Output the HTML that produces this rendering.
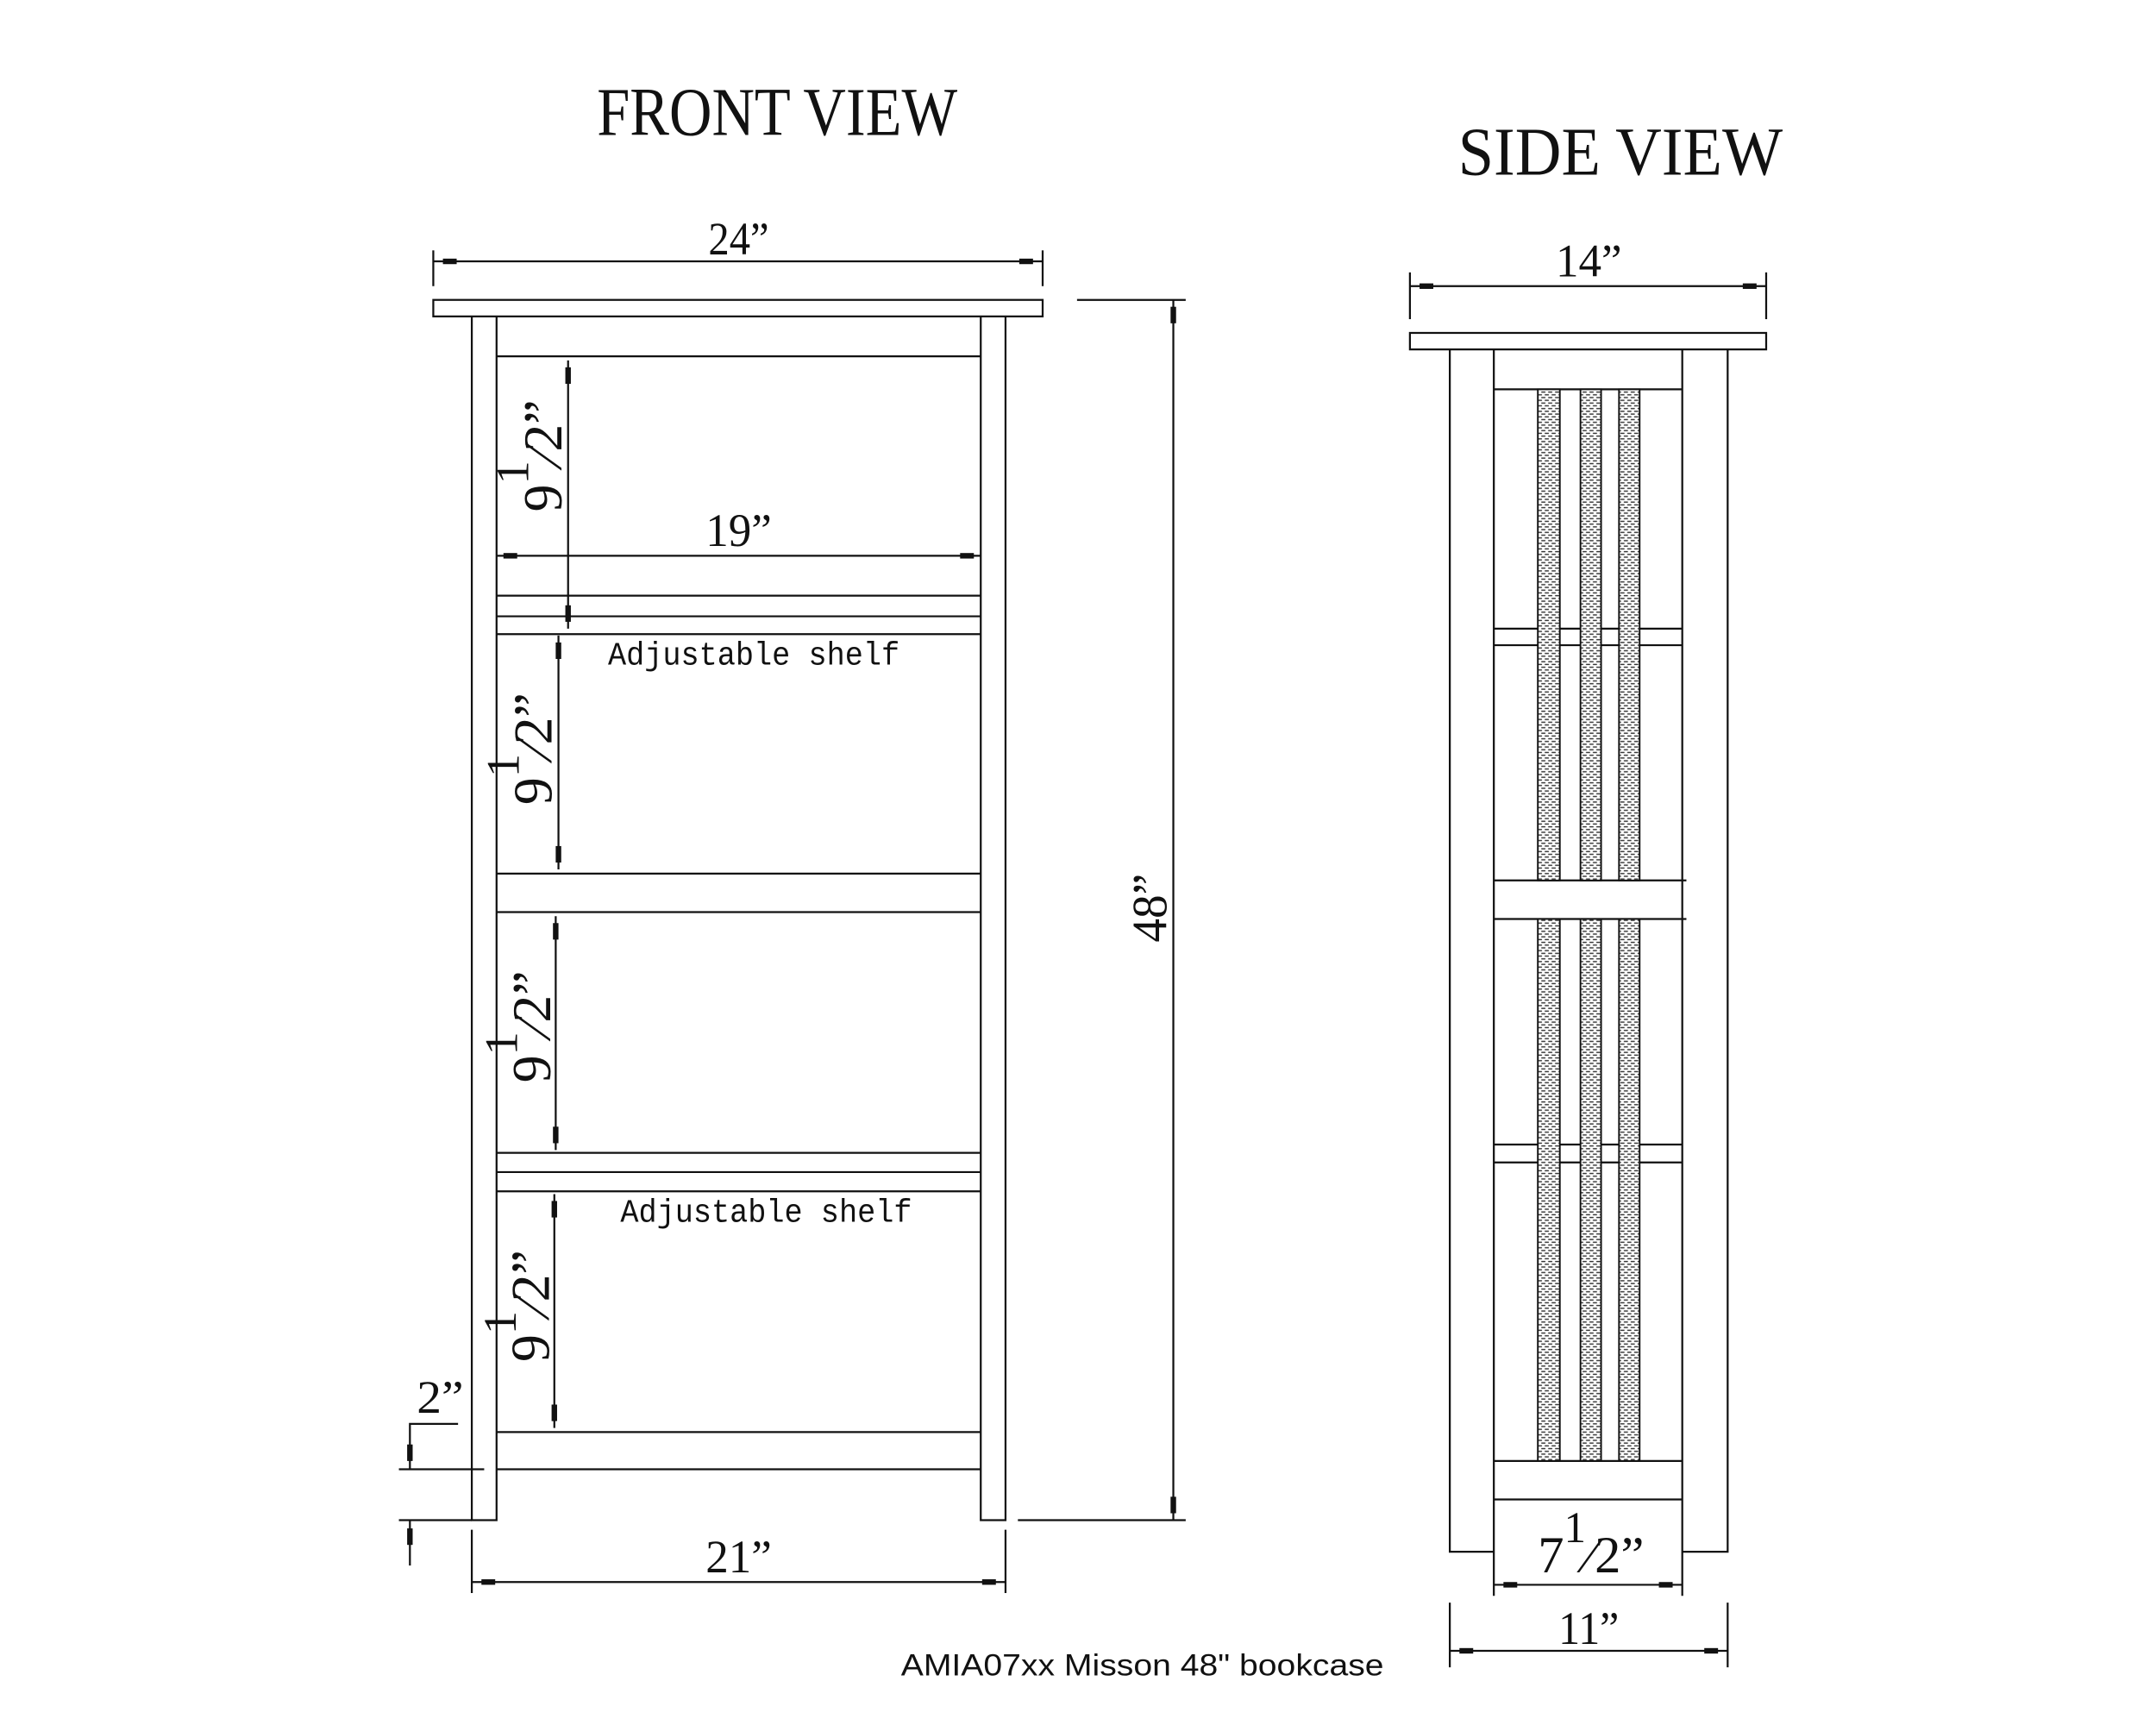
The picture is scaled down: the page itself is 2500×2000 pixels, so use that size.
<!DOCTYPE html>
<html><head><meta charset="utf-8"><style>
html,body{margin:0;padding:0;background:#fff;}
svg{display:block;}
text{font-family:"Liberation Serif",serif;fill:#111;}
</style></head><body>
<svg width="2500" height="2000" viewBox="0 0 2500 2000" xmlns="http://www.w3.org/2000/svg">
<defs>
<pattern id="h" width="5" height="4" patternUnits="userSpaceOnUse">
<rect width="5" height="4" fill="#fff"/>
<line x1="0.5" y1="1" x2="3.5" y2="1" stroke="#333" stroke-width="0.9"/>
<line x1="3" y1="3" x2="5" y2="3" stroke="#333" stroke-width="0.9"/>
<line x1="0" y1="3" x2="1" y2="3" stroke="#333" stroke-width="0.9"/>
</pattern>
</defs>
<rect width="2500" height="2000" fill="#fff"/>
<g transform="scale(1.595)" stroke="#111" stroke-width="1.4" fill="none">
<text x="565" y="98" font-size="50" text-anchor="middle" stroke="none" textLength="262" lengthAdjust="spacingAndGlyphs">FRONT VIEW</text>
<text x="1178" y="127" font-size="50" text-anchor="middle" stroke="none" textLength="236" lengthAdjust="spacingAndGlyphs">SIDE VIEW</text>

<line x1="315" y1="190" x2="758" y2="190"/>
<line x1="315" y1="182" x2="315" y2="208"/>
<line x1="758" y1="182" x2="758" y2="208"/>
<rect x="322" y="188" width="10" height="4" fill="#111" stroke="none"/>
<rect x="741" y="188" width="10" height="4" fill="#111" stroke="none"/>
<text x="537" y="185" font-size="34" text-anchor="middle" stroke="none" textLength="44" lengthAdjust="spacingAndGlyphs">24”</text>
<rect x="315" y="218" width="443" height="12"/>
<polyline points="343,230 343,1105 361,1105 361,230"/>
<polyline points="713,230 713,1105 731,1105 731,230"/>
<line x1="361" y1="259" x2="713" y2="259"/>
<line x1="361" y1="433" x2="713" y2="433"/>
<line x1="361" y1="448" x2="713" y2="448"/>
<line x1="361" y1="461" x2="713" y2="461"/>
<line x1="361" y1="635" x2="713" y2="635"/>
<line x1="361" y1="663" x2="713" y2="663"/>
<line x1="361" y1="838" x2="713" y2="838"/>
<line x1="361" y1="852" x2="713" y2="852"/>
<line x1="361" y1="866" x2="713" y2="866"/>
<line x1="361" y1="1041" x2="713" y2="1041"/>
<line x1="361" y1="1068" x2="713" y2="1068"/>

<line x1="361" y1="404" x2="713" y2="404"/>
<rect x="366" y="402" width="10" height="4" fill="#111" stroke="none"/>
<rect x="698" y="402" width="10" height="4" fill="#111" stroke="none"/>
<text x="537" y="397" font-size="34" text-anchor="middle" stroke="none" textLength="48" lengthAdjust="spacingAndGlyphs">19”</text>

<line x1="413" y1="262" x2="413" y2="457"/>
<rect x="411" y="267" width="4" height="12" fill="#111" stroke="none"/>
<rect x="411" y="440" width="4" height="12" fill="#111" stroke="none"/>
<line x1="406" y1="462" x2="406" y2="632"/>
<rect x="404" y="467" width="4" height="12" fill="#111" stroke="none"/>
<rect x="404" y="615" width="4" height="12" fill="#111" stroke="none"/>
<line x1="404" y1="666" x2="404" y2="836"/>
<rect x="402" y="671" width="4" height="12" fill="#111" stroke="none"/>
<rect x="402" y="819" width="4" height="12" fill="#111" stroke="none"/>
<line x1="403" y1="868" x2="403" y2="1038"/>
<rect x="401" y="873" width="4" height="12" fill="#111" stroke="none"/>
<rect x="401" y="1021" width="4" height="12" fill="#111" stroke="none"/>

<g stroke="none" font-size="40">
<text transform="translate(408,372) rotate(-90)">9<tspan dy="-24" font-size="34">1</tspan><tspan dy="24">⁄2”</tspan></text>
<text transform="translate(401,585) rotate(-90)">9<tspan dy="-24" font-size="34">1</tspan><tspan dy="24">⁄2”</tspan></text>
<text transform="translate(400,787) rotate(-90)">9<tspan dy="-24" font-size="34">1</tspan><tspan dy="24">⁄2”</tspan></text>
<text transform="translate(399,990) rotate(-90)">9<tspan dy="-24" font-size="34">1</tspan><tspan dy="24">⁄2”</tspan></text>
</g>

<text x="548" y="483" font-size="24" text-anchor="middle" stroke="none" style="font-family:'Liberation Mono',monospace" textLength="212" lengthAdjust="spacingAndGlyphs">Adjustable shelf</text>
<text x="557" y="888" font-size="24" text-anchor="middle" stroke="none" style="font-family:'Liberation Mono',monospace" textLength="212" lengthAdjust="spacingAndGlyphs">Adjustable shelf</text>

<line x1="783" y1="218" x2="862" y2="218"/>
<line x1="740" y1="1105" x2="862" y2="1105"/>
<line x1="853" y1="218" x2="853" y2="1105"/>
<rect x="851" y="223" width="4" height="12" fill="#111" stroke="none"/>
<rect x="851" y="1088" width="4" height="12" fill="#111" stroke="none"/>
<text transform="translate(848,660) rotate(-90)" font-size="36" text-anchor="middle" stroke="none" textLength="50" lengthAdjust="spacingAndGlyphs">48”</text>

<line x1="343" y1="1150" x2="731" y2="1150"/>
<line x1="343" y1="1112" x2="343" y2="1158"/>
<line x1="731" y1="1112" x2="731" y2="1158"/>
<rect x="350" y="1148" width="10" height="4" fill="#111" stroke="none"/>
<rect x="714" y="1148" width="10" height="4" fill="#111" stroke="none"/>
<text x="537" y="1143" font-size="34" text-anchor="middle" stroke="none" textLength="48" lengthAdjust="spacingAndGlyphs">21”</text>

<line x1="290" y1="1068" x2="352" y2="1068"/>
<line x1="290" y1="1105" x2="343" y2="1105"/>
<polyline points="333,1035 298,1035 298,1068"/>
<line x1="298" y1="1105" x2="298" y2="1138"/>
<rect x="296" y="1050" width="4" height="12" fill="#111" stroke="none"/>
<rect x="296" y="1111" width="4" height="12" fill="#111" stroke="none"/>
<text x="320" y="1027" font-size="34" text-anchor="middle" stroke="none" textLength="34" lengthAdjust="spacingAndGlyphs">2”</text>

<line x1="1025" y1="208" x2="1284" y2="208"/>
<line x1="1025" y1="198" x2="1025" y2="232"/>
<line x1="1284" y1="198" x2="1284" y2="232"/>
<rect x="1032" y="206" width="10" height="4" fill="#111" stroke="none"/>
<rect x="1267" y="206" width="10" height="4" fill="#111" stroke="none"/>
<text x="1155" y="201" font-size="34" text-anchor="middle" stroke="none" textLength="48" lengthAdjust="spacingAndGlyphs">14”</text>

<rect x="1025" y="242" width="259" height="12"/>
<polyline points="1054,254 1054,1128 1086,1128"/>
<polyline points="1256,254 1256,1128 1223,1128"/>
<line x1="1086" y1="254" x2="1086" y2="1160"/>
<line x1="1223" y1="254" x2="1223" y2="1160"/>
<line x1="1086" y1="283" x2="1223" y2="283"/>
<line x1="1086" y1="457" x2="1223" y2="457"/>
<line x1="1086" y1="469" x2="1223" y2="469"/>
<line x1="1086" y1="640" x2="1226" y2="640"/>
<line x1="1086" y1="668" x2="1226" y2="668"/>
<line x1="1086" y1="832" x2="1223" y2="832"/>
<line x1="1086" y1="845" x2="1223" y2="845"/>
<line x1="1086" y1="1062" x2="1223" y2="1062"/>
<line x1="1086" y1="1090" x2="1223" y2="1090"/>
<g fill="url(#h)" stroke-width="1.2">
<rect x="1118" y="283" width="16" height="357"/>
<rect x="1149" y="283" width="15" height="357"/>
<rect x="1177" y="283" width="15" height="357"/>
<rect x="1118" y="668" width="16" height="394"/>
<rect x="1149" y="668" width="15" height="394"/>
<rect x="1177" y="668" width="15" height="394"/>
</g>

<line x1="1086" y1="1152" x2="1223" y2="1152"/>
<rect x="1093" y="1150" width="10" height="4" fill="#111" stroke="none"/>
<rect x="1206" y="1150" width="10" height="4" fill="#111" stroke="none"/>
<text x="1118" y="1143" font-size="38" stroke="none">7<tspan dy="-22" font-size="32">1</tspan><tspan dy="22">⁄2”</tspan></text>

<line x1="1054" y1="1200" x2="1256" y2="1200"/>
<line x1="1054" y1="1165" x2="1054" y2="1212"/>
<line x1="1256" y1="1165" x2="1256" y2="1212"/>
<rect x="1061" y="1198" width="10" height="4" fill="#111" stroke="none"/>
<rect x="1239" y="1198" width="10" height="4" fill="#111" stroke="none"/>
<text x="1155" y="1195" font-size="34" text-anchor="middle" stroke="none" textLength="44" lengthAdjust="spacingAndGlyphs">11”</text>

<text x="655" y="1218" font-size="22" stroke="none" style="font-family:'Liberation Sans',sans-serif" textLength="351" lengthAdjust="spacingAndGlyphs">AMIA07xx Misson 48" bookcase</text>
</g>
</svg>
</body></html>
